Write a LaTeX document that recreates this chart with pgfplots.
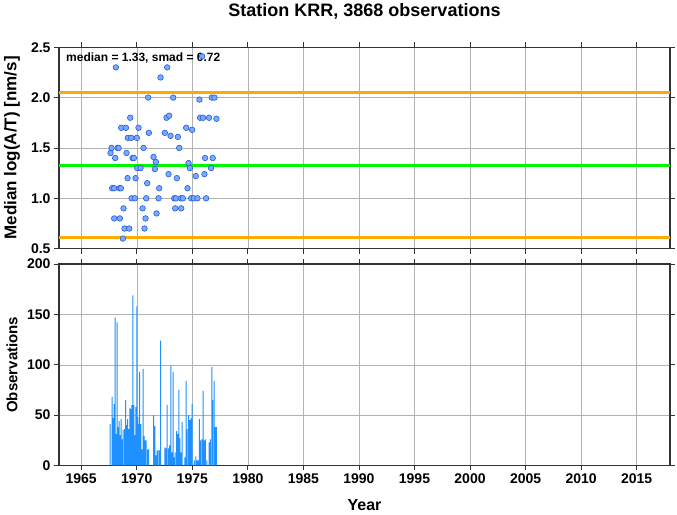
\documentclass[border=0pt]{standalone}
\usepackage{fontspec}
\setmainfont{Liberation Sans}
\usepackage{pgfplots}
\pgfplotsset{compat=1.18}
\definecolor{dblue}{RGB}{30,144,255}
\definecolor{mfill}{RGB}{120,170,255}
\definecolor{medge}{RGB}{40,90,220}
\definecolor{gorange}{RGB}{255,170,0}
\definecolor{ggreen}{RGB}{0,245,0}
\begin{document}
\begin{tikzpicture}[x=1pt,y=1pt]
\pgfplotsset{
  myax/.style={
    scale only axis, width=611pt, height=201.4pt,
    xmin=1963, xmax=2018,
    xtick={1965,1970,...,2015},
    grid=major,
    major grid style={gray!60, line width=0.5pt},
    tick align=outside, major tick length=5pt,
    tick style={black!80, line width=0.8pt},
    axis line style={black!80, line width=1.2pt},
    /pgf/number format/assume math mode=true,
    /pgf/number format/1000 sep={},
    every tick label/.append style={font=\fontsize{14}{16}\selectfont\bfseries},
    every axis y label/.style={at={(axis description cs:-0.077,0.5)}, rotate=90, anchor=center},
    every axis x label/.style={at={(axis description cs:0.5,-0.199)}, anchor=center, font=\fontsize{16}{18}\selectfont\bfseries},
  }
}
\begin{axis}[myax, at={(0,0)}, anchor=south west,
  ymin=0.5, ymax=2.5, ytick={0.5,1.0,...,2.5},
  yticklabel style={/pgf/number format/.cd, fixed, fixed zerofill, precision=1},
  xticklabels={},
  ylabel={Median log(A/T) [nm/s]},
  ylabel style={font=\fontsize{17}{19}\selectfont\bfseries},
  title={Station KRR, 3868 observations},
  title style={at={(0.5,1)}, anchor=center, yshift=30pt, font=\fontsize{18}{20}\selectfont\bfseries},
  clip=false]
\addplot[gorange, line width=2.2pt, forget plot] coordinates {(1963,2.05) (2018,2.05)};
\addplot[gorange, line width=2.2pt, forget plot] coordinates {(1963,0.61) (2018,0.61)};
\addplot[ggreen, line width=3pt, forget plot] coordinates {(1963,1.33) (2018,1.33)};
\addplot[only marks, mark=*, mark size=2.8pt, mark options={fill=mfill, draw=medge, line width=0.6pt}] table {
x y
1968.12 2.30
1972.74 2.30
1975.88 2.41
1972.14 2.20
1971.03 2.00
1973.28 2.00
1975.64 1.98
1976.75 2.00
1976.99 2.00
1969.41 1.80
1972.68 1.80
1972.92 1.82
1975.70 1.80
1975.97 1.80
1976.51 1.80
1977.17 1.79
1968.60 1.70
1969.02 1.70
1970.16 1.70
1971.09 1.65
1972.53 1.65
1973.04 1.62
1973.70 1.61
1974.45 1.70
1974.98 1.68
1969.20 1.60
1969.50 1.60
1970.01 1.60
1967.73 1.50
1968.27 1.50
1968.36 1.50
1967.64 1.45
1968.06 1.40
1969.08 1.45
1969.62 1.40
1969.74 1.40
1970.61 1.50
1973.82 1.50
1971.51 1.41
1971.72 1.36
1970.04 1.30
1970.34 1.30
1971.63 1.29
1974.66 1.35
1974.78 1.30
1976.15 1.40
1976.84 1.40
1976.69 1.30
1972.86 1.24
1976.09 1.24
1975.31 1.22
1969.17 1.20
1969.89 1.20
1973.61 1.20
1970.94 1.15
1967.79 1.10
1967.97 1.10
1968.45 1.10
1968.57 1.10
1972.02 1.10
1974.57 1.10
1969.53 1.00
1969.83 1.00
1970.85 1.00
1971.96 1.00
1973.37 1.00
1973.52 1.00
1973.97 1.00
1974.15 1.00
1974.90 1.00
1975.13 1.00
1975.46 1.00
1976.24 1.00
1968.81 0.90
1970.52 0.90
1971.78 0.85
1973.46 0.90
1974.00 0.90
1967.97 0.80
1968.48 0.80
1970.79 0.80
1968.90 0.70
1969.32 0.70
1970.70 0.70
1968.75 0.60
};
\node[anchor=north west, inner sep=0pt, font=\fontsize{12}{14}\selectfont\bfseries] at ([xshift=7pt,yshift=-5pt]rel axis cs:0,1) {median = 1.33, smad = 0.72};
\end{axis}
\begin{axis}[myax, at={(0,-15.3)}, anchor=north west,
  ymin=0, ymax=200, ytick={0,50,...,200},
  ylabel={Observations}, xlabel={Year},
  ylabel style={font=\fontsize{15}{17}\selectfont\bfseries}]
\addplot[ybar, bar width=0.09, fill=dblue, draw=none] table {
x y
1967.60 41
1967.79 68
1967.88 47
1967.97 61
1968.06 147
1968.15 31
1968.24 142
1968.33 38
1968.42 44
1968.51 30
1968.60 46
1968.69 26
1968.78 35
1968.90 36
1968.99 65
1969.08 40
1969.17 46
1969.26 36
1969.38 57
1969.47 56
1969.56 60
1969.65 169
1969.74 60
1969.83 30
1969.92 58
1970.01 158
1970.10 48
1970.19 41
1970.25 93
1970.37 41
1970.46 16
1970.58 96
1970.67 29
1970.76 25
1970.85 25
1970.97 16
1971.06 16
1971.51 50
1971.63 39
1971.72 10
1971.84 15
1971.93 15
1972.05 15
1972.14 124
1972.53 18
1972.65 17
1972.74 60
1972.86 17
1972.95 20
1973.07 99
1973.16 13
1973.28 93
1973.37 8
1973.46 13
1973.58 34
1973.67 31
1973.79 75
1973.88 27
1974.00 13
1974.09 43
1974.33 8
1974.45 84
1974.54 36
1974.66 50
1974.78 45
1974.90 47
1974.99 61
1975.19 5
1975.31 9
1975.40 5
1975.52 5
1975.64 46
1975.73 25
1975.85 26
1975.97 74
1976.09 25
1976.18 26
1976.30 5
1976.51 23
1976.63 26
1976.75 98
1976.84 65
1976.96 84
1977.08 38
1977.17 38
};
\end{axis}
\path[use as bounding box] (-59,-264.3) rectangle (618,246.7);
\end{tikzpicture}
\end{document}
